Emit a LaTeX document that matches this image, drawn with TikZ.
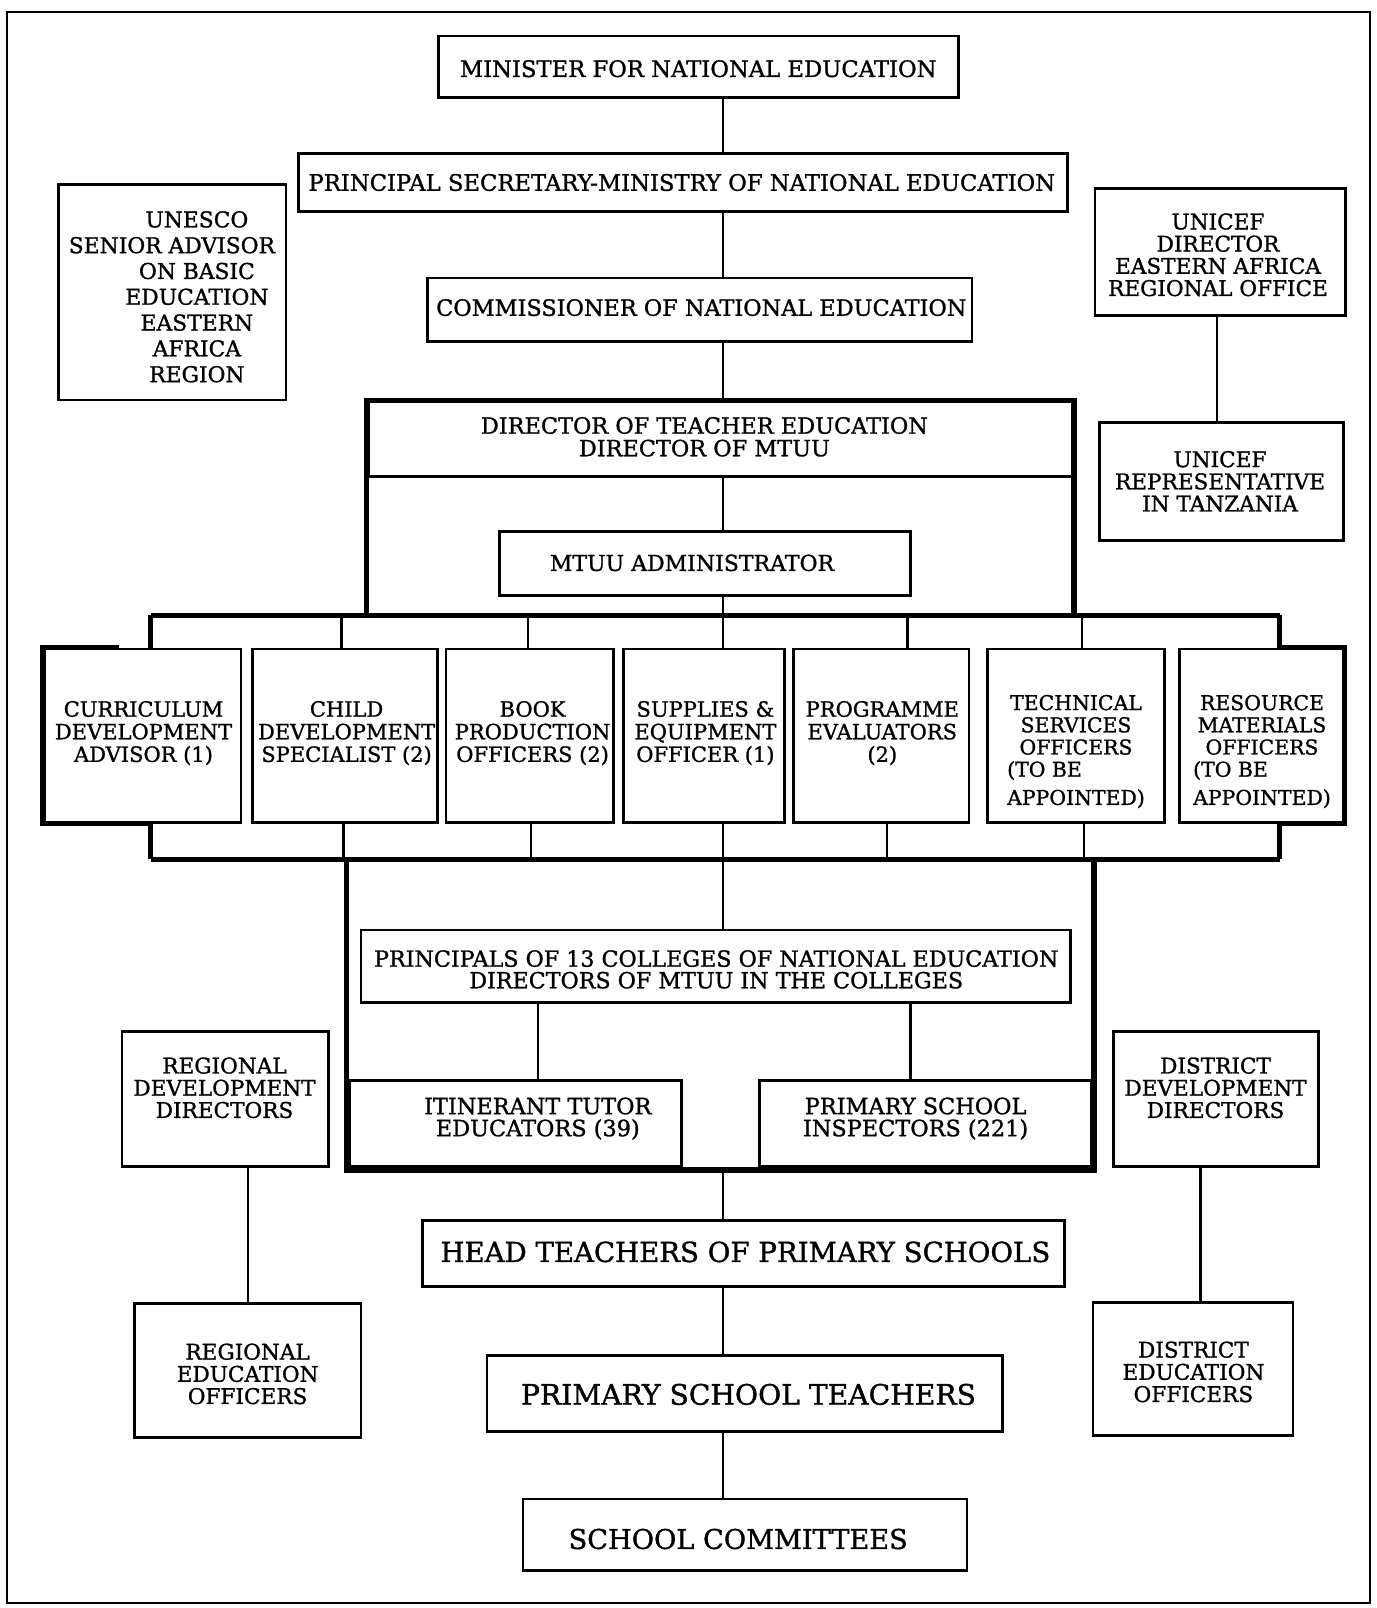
\documentclass[tikz,border=0pt]{standalone}
\usepackage{fontspec}
\setmainfont{DejaVu Serif}[FakeBold=1.2]
\usetikzlibrary{fit}
\newcommand\fsz[2]{\fontsize{#1}{#2}\selectfont}
\begin{document}
\begin{tikzpicture}[x=0.5pt,y=-0.5pt,
  box/.style={draw,line width=1.4pt,inner sep=0pt},
  link/.style={line width=1.2pt},
  heavy/.style={line width=2.6pt},
  txt/.style={inner sep=0pt,align=center},
  top/.style={txt,font=\fsz{11.35}{13}},
  side/.style={txt,font=\fsz{10.8}{11.1}},
  unit/.style={txt,font=\fsz{10.5}{11.3}},
  low/.style={txt,font=\fsz{13.8}{16}},
]
\useasboundingbox (0,0) rectangle (1377,1608);
\fill[white] (0,0) rectangle (1377,1608);
\draw[line width=1.3pt] (7,12) rectangle (1370,1603);

% reference lines for the connectors
\coordinate (spine) at (722.8,0);
\coordinate (uspine) at (1217,0);

% ministry chain
\node[box,fit={(438.8,35.9)(958.7,97.4)}] (min) {};
\node[top] (minT) at (698.2,68.7) {MINISTER FOR NATIONAL EDUCATION};
\node[box,fit={(298.4,153.8)(1067.3,211.2)}] (ps) {};
\node[top] (psT) at (681.8,182.5) {PRINCIPAL SECRETARY-MINISTRY OF NATIONAL EDUCATION};
\node[box,fit={(427.6,277.9)(972,341.4)}] (com) {};
\node[top,font=\fsz{11.2}{13}] (comT) at (701.3,307.6) {COMMISSIONER OF NATIONAL EDUCATION};

% partner agencies
\node[box,fit={(58.4,184.6)(286,399.9)}] (unesco) {};
\node[side,font=\fsz{10.9}{12.9}] (unescoT) at (196.9,296.8)
  {UNESCO\\\hspace*{-25pt}SENIOR ADVISOR\\ON BASIC\\EDUCATION\\EASTERN\\AFRICA\\REGION};
\node[box,fit={(1095,188.7)(1345.2,315.8)}] (ucdir) {};
\node[side] (ucdirT) at (1218,254.8) {UNICEF\\DIRECTOR\\EASTERN AFRICA\\REGIONAL OFFICE};
\node[box,fit={(1099.1,422.4)(1343.1,540.3)}] (ucrep) {};
\node[side] (ucrepT) at (1220,481.4) {UNICEF\\REPRESENTATIVE\\IN TANZANIA};

% teacher education directorate
\node[box,fit={(368.1,401.9)(1072.5,476.8)}] (dte) {};
\node[txt,font=\fsz{11.2}{11.3}] (dteT) at (704.4,436.8) {DIRECTOR OF TEACHER EDUCATION\\DIRECTOR OF MTUU};
\node[box,fit={(499.3,531.1)(910.5,595.7)}] (adm) {};
\node[txt,font=\fsz{11}{12}] (admT) at (692,562.9) {MTUU ADMINISTRATOR};

% specialist units
\node[box,fit={(44.1,649)(240.9,822.3)}] (u1) {};
\node[box,fit={(252.2,649)(437.8,822.3)}] (u2) {};
\node[box,fit={(446,649)(613.1,822.3)}] (u3) {};
\node[box,fit={(623.4,649)(784.4,822.3)}] (u4) {};
\node[box,fit={(793.6,649)(968.9,822.3)}] (u5) {};
\node[box,fit={(987.4,649)(1164.7,822.3)}] (u6) {};
\node[box,fit={(1179.1,649)(1343.1,822.3)}] (u7) {};
\node[unit] (u1T) at (143.5,733.1) {CURRICULUM\\DEVELOPMENT\\ADVISOR (1)};
\node[unit] (u2T) at (346.6,733.1) {CHILD\\DEVELOPMENT\\SPECIALIST (2)};
\node[unit] (u3T) at (532.6,733.1) {BOOK\\PRODUCTION\\OFFICERS (2)};
\node[unit] (u4T) at (705.4,733.1) {SUPPLIES \&\\EQUIPMENT\\OFFICER (1)};
\node[unit] (u5T) at (882.3,733.1) {PROGRAMME\\EVALUATORS\\(2)};
\node[unit,font=\fsz{10.2}{11.1}] (u6T) at (1076,751.5)
  {TECHNICAL\\SERVICES\\OFFICERS\\\rlap{(TO BE}\phantom{APPOINTED)}\\[3pt]APPOINTED)};
\node[unit,font=\fsz{10.2}{11.1}] (u7T) at (1262,751.5)
  {RESOURCE\\MATERIALS\\OFFICERS\\\rlap{(TO BE}\phantom{APPOINTED)}\\[3pt]APPOINTED)};

% colleges
\node[box,fit={(360.9,930)(1070.4,1002.7)}] (col) {};
\node[txt,font=\fsz{11.1}{10.8}] (colT) at (716.2,969.4)
  {PRINCIPALS OF 13 COLLEGES OF NATIONAL EDUCATION\\DIRECTORS OF MTUU IN THE COLLEGES};
\node[box,fit={(349.6,1080.7)(681.8,1166.8)}] (itin) {};
\node[txt,font=\fsz{11.2}{11}] (itinT) at (537.8,1118.6) {ITINERANT TUTOR\\EDUCATORS (39)};
\node[box,fit={(759.7,1080.7)(1090.9,1166.8)}] (insp) {};
\node[txt,font=\fsz{11.2}{11}] (inspT) at (915.6,1118.6) {PRIMARY SCHOOL\\INSPECTORS (221)};

% regional and district administration
\node[box,fit={(122,1031.5)(328.1,1166.8)}] (rdd) {};
\node[side] (rddT) at (224.5,1087.8) {REGIONAL\\DEVELOPMENT\\DIRECTORS};
\node[box,fit={(1113.5,1031.5)(1318.5,1166.8)}] (ddd) {};
\node[side] (dddT) at (1215.5,1087.8) {DISTRICT\\DEVELOPMENT\\DIRECTORS};
\node[box,fit={(134.3,1303.2)(360.9,1437.5)}] (reo) {};
\node[side] (reoT) at (247.6,1373.9) {REGIONAL\\EDUCATION\\OFFICERS};
\node[box,fit={(1093,1302.1)(1292.9,1435.4)}] (deo) {};
\node[side] (deoT) at (1193.4,1371.9) {DISTRICT\\EDUCATION\\OFFICERS};

% schools
\node[box,fit={(422.4,1220.1)(1064.3,1286.8)}] (head) {};
\node[low] (headT) at (745.4,1251.9) {HEAD TEACHERS OF PRIMARY SCHOOLS};
\node[box,fit={(487,1355.4)(1002.7,1431.3)}] (pst) {};
\node[low,font=\fsz{14.1}{16}] (pstT) at (748.5,1394.4) {PRIMARY SCHOOL TEACHERS};
\node[box,fit={(522.9,1499)(966.9,1570.8)}] (sc) {};
\node[low,font=\fsz{13.6}{16}] (scT) at (738.2,1539) {SCHOOL COMMITTEES};

% bus bars
\coordinate (busL) at (150.7,615.2);
\coordinate (busR) at (1279.6,615.2);
\coordinate (lbusL) at (150.7,859.2);
\coordinate (lbusR) at (1279.6,859.2);
\coordinate (frL) at (346.6,1169.9);
\coordinate (frR) at (1094,1169.9);

% heavy outline of the directorate
\draw[heavy] (busL -| dte.west) -- (dte.north west) -- (dte.north east) -- (busR -| dte.east);
\draw[heavy] (busL) -- (busR);
\draw[heavy] (busL) -- (busL |- u1.north);
\draw[heavy] (busR) -- (busR |- u7.north);
\draw[heavy] (u1.north west) -- (u1.south west);
\draw[heavy] ([xshift=-1.3pt]u1.north west) -- ([xshift=38pt]u1.north west);
\draw[heavy] ([xshift=-1.3pt]u1.south west) -- ([xshift=55pt]u1.south west);
\draw[heavy] (u7.north east) -- (u7.south east);
\draw[heavy] ([xshift=1.3pt]u7.north east) -- ([xshift=-32pt]u7.north east);
\draw[heavy] ([xshift=1.3pt]u7.south east) -- ([xshift=-32pt]u7.south east);
\draw[heavy] (lbusL) -- (lbusR);
\draw[heavy] (lbusL) -- (lbusL |- u1.south);
\draw[heavy] (lbusR) -- (lbusR |- u7.south);
\draw[heavy] (lbusL -| frL) -- (frL) -- (frR) -- (lbusR -| frR);

% ministry connectors
\draw[link] (min.south -| spine) -- (ps.north -| spine);
\draw[link] (ps.south -| spine) -- (com.north -| spine);
\draw[link] (com.south -| spine) -- (dte.north -| spine);
\draw[link] (dte.south -| spine) -- (adm.north -| spine);
\draw[link] (adm.south -| spine) -- (busL -| spine);
\draw[link] (ucdir.south -| uspine) -- (ucrep.north -| uspine);

% drops to and from the specialist units
\foreach \x in {341.4,528,722.8,907.4,1081.7}
  \draw[link] (busL -| \x,0) -- (u1.north -| \x,0);
\foreach \x in {343.5,531.1,722.8,886.9,1083.7}
  \draw[link] (u1.south -| \x,0) -- (lbusL -| \x,0);

% colleges and field staff
\draw[link] (lbusL -| spine) -- (col.north -| spine);
\draw[link] (col.south -| itinT) -- (itin.north -| itinT);
\draw[link] (col.south -| 910.5,0) -- (insp.north -| 910.5,0);
\draw[link] (frL -| spine) -- (head.north -| spine);
\draw[link] (head.south -| spine) -- (pst.north -| spine);
\draw[link] (pst.south -| spine) -- (sc.north -| spine);
\draw[link] (rdd.south -| 248.1,0) -- (reo.north -| 248.1,0);
\draw[link] (ddd.south -| 1200.6,0) -- (deo.north -| 1200.6,0);
\end{tikzpicture}
\end{document}
